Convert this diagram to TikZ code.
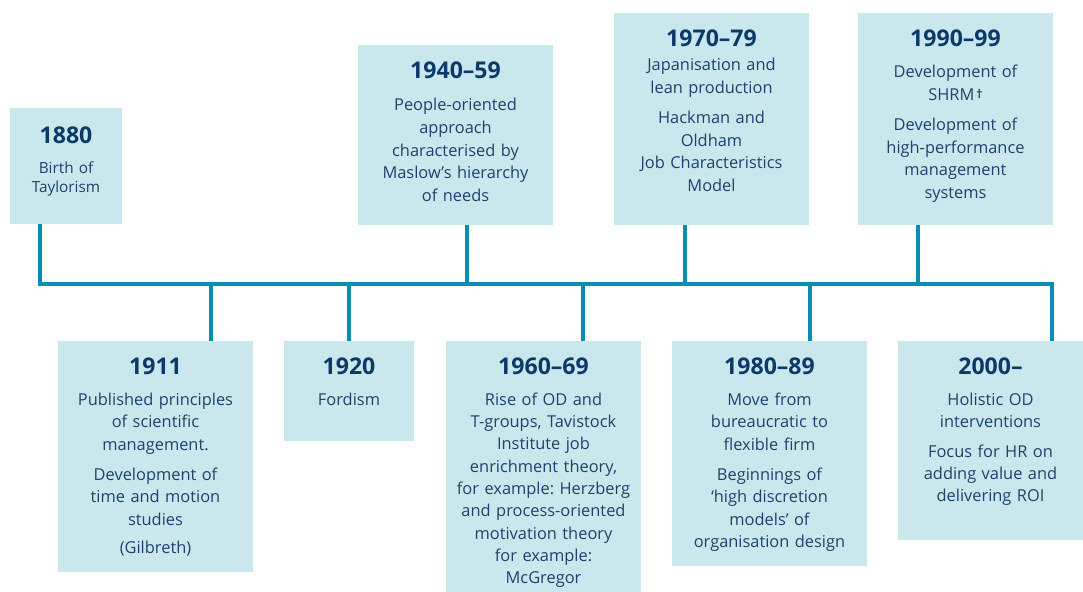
\documentclass[tikz,border=0pt]{standalone}
\usepackage{fontspec}
\setmainfont{Open Sans}
\frenchspacing
\definecolor{boxfill}{HTML}{CBE7EE}
\definecolor{linecol}{HTML}{0A8DB2}
\definecolor{headcol}{HTML}{0B3A6A}
\definecolor{bodycol}{HTML}{1D426E}
\newcommand\tlbox[5]{\node[tbox, minimum width={(#4-#2)*0.75pt}, minimum height={(#5-#3)*0.75pt}] (#1) at ({(#2+#4)/2},{(#3+#5)/2}) {};}
\begin{document}
\begin{tikzpicture}[x=0.75pt,y=-0.75pt,
  tbox/.style={draw=none, fill=boxfill, inner sep=0pt, outer sep=0pt},
  conn/.style={draw=linecol, line width=3.4pt, line join=miter},
  head/.style={font=\bfseries\fontsize{17.3}{20}\selectfont, text=headcol, anchor=base, inner sep=0pt},
  body/.style={font=\fontsize{12.3}{16.9}\selectfont, text=bodycol, align=center, anchor=base, inner sep=0pt},
  smallbody/.style={font=\fontsize{11.5}{13.5}\selectfont, text=bodycol, align=center, anchor=base, inner sep=0pt}]
\useasboundingbox (0,0) rectangle (1083,592);
\fill[white] (0,0) rectangle (1083,592);
% junctions on the bar
\coordinate (j1880) at (40,284);
\coordinate (j1911) at (211,284);
\coordinate (j1920) at (349,284);
\coordinate (j1940) at (467,284);
\coordinate (j1960) at (583,284);
\coordinate (j1970) at (685,284);
\coordinate (j1980) at (810,284);
\coordinate (j1990) at (918,284);
\coordinate (j2000) at (1052,284);
% boxes
\tlbox{b1880}{10}{108}{122}{224}
\tlbox{b1940}{358}{45}{553}{225}
\tlbox{b1970}{614}{13}{809}{225}
\tlbox{b1990}{858}{13}{1053}{225}
\tlbox{b1911}{58}{341}{253}{572}
\tlbox{b1920}{284}{341}{414}{441}
\tlbox{b1960}{446}{341}{641}{592}
\tlbox{b1980}{672}{341}{867}{566}
\tlbox{b2000}{898}{341}{1083}{540}
% connectors
\draw[conn] (b1880.south -| j1880) |- (j2000) -- (b2000.north -| j2000);
\draw[conn] (b1940.south -| j1940) -- (j1940);
\draw[conn] (b1970.south -| j1970) -- (j1970);
\draw[conn] (b1990.south -| j1990) -- (j1990);
\draw[conn] (b1911.north -| j1911) -- (j1911);
\draw[conn] (b1920.north -| j1920) -- (j1920);
\draw[conn] (b1960.north -| j1960) -- (j1960);
\draw[conn] (b1980.north -| j1980) -- (j1980);
% headings
\node[head] (h1880) at (66,143) {1880};
\node[head] (h1940) at (455.5,79) {1940–59};
\node[head] (h1970) at (711.5,47) {1970–79};
\node[head] (h1990) at (955.5,47) {1990–99};
\node[head] (h1911) at (155.5,374) {1911};
\node[head] (h1920) at (349,374) {1920};
\node[head] (h1960) at (543.5,374) {1960–69};
\node[head] (h1980) at (769.5,374) {1980–89};
\node[head] (h2000) at (990.5,374) {2000–};
% body texts
\node[smallbody, text width=84pt] (t1880) at (66,174) {Birth of\\Taylorism};
\node[body, text width=146pt] (t1940) at (455.5,111) {People-oriented\\approach\\characterised by\\Maslow’s hierarchy\\of needs};
\node[body, text width=146pt] (t1970) at (711.5,71) {Japanisation and\\lean production\\[5.6pt]Hackman and\\Oldham\\Job Characteristics\\Model};
\node[body, text width=146pt] (t1990) at (955.5,78) {Development of\\SHRM\kern1.5pt\raisebox{0.25ex}{\bfseries\fontsize{9}{9}\selectfont †}\\[5.6pt]Development of\\high-performance\\management\\systems};
\node[body, text width=146pt] (t1911) at (155.5,405) {Published principles\\of scientific\\management.\\[5.6pt]Development of\\time and motion\\studies\\[4.3pt](Gilbreth)};
\node[body, text width=97pt] (t1920) at (349,405) {Fordism};
\node[body, text width=146pt, font=\fontsize{12.3}{16.75}\selectfont] (t1960) at (543.5,405) {Rise of OD and\\T-groups, Tavistock\\Institute job\\enrichment theory,\\for example: Herzberg\\and process-oriented\\motivation theory\\for example:\\McGregor};
\node[body, text width=146pt] (t1980) at (769.5,405) {Move from\\bureaucratic to\\flexible firm\\[5.6pt]Beginnings of\\‘high discretion\\models’ of\\organisation design};
\node[body, text width=138pt, font=\fontsize{12.3}{16.5}\selectfont] (t2000) at (990.5,405) {Holistic OD\\interventions\\[6.5pt]Focus for HR on\\adding value and\\delivering ROI};
\end{tikzpicture}
\end{document}
